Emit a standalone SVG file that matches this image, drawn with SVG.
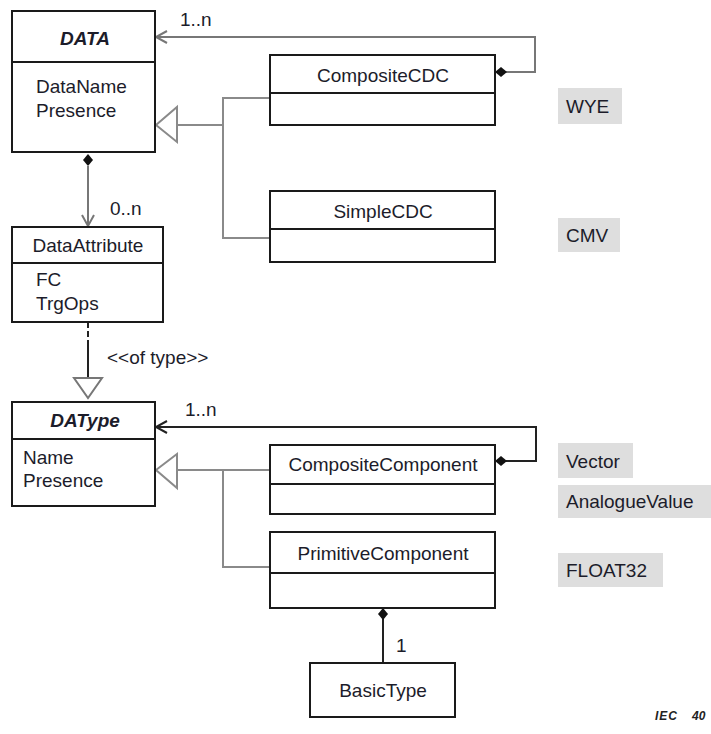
<svg xmlns="http://www.w3.org/2000/svg" width="711" height="734" viewBox="0 0 711 734">
<style>
  .box{fill:#fff;stroke:#1a1a1a;stroke-width:2}
  .div{stroke:#1a1a1a;stroke-width:2}
  .t{font-family:"Liberation Sans",Arial,sans-serif;font-size:19px;fill:#1c1c2a}
  .c{text-anchor:middle}
  .bi{font-weight:bold;font-style:italic}
  .gen{fill:none;stroke:#8a8a8a;stroke-width:2}
  .asc{fill:none;stroke:#777;stroke-width:2}
  .ascd{fill:none;stroke:#222;stroke-width:2}
  .lbl{fill:#dedede}
</style>
<rect width="711" height="734" fill="#fff"/>
<g id="connectors">
  <!-- DATA 1..n association from CompositeCDC -->
  <polyline class="asc" points="506,72 535,72 535,37 156,37"/>
  <polyline class="asc" points="167,31 156,37 167,43"/>
  <polygon points="495,72 501,67 507,72 501,77" fill="#111"/>
  <text class="t" x="180" y="26">1..n</text>
  <!-- generalization to DATA -->
  <polyline class="gen" points="270,98 223,98 223,238 270,238"/>
  <line class="gen" x1="177" y1="125" x2="223" y2="125"/>
  <polygon class="gen" points="156,125 177,107 177,142"/>
  <!-- DATA to DataAttribute composition -->
  <line class="asc" x1="88" y1="166" x2="88" y2="226"/>
  <polygon points="88,154 93,160 88,166 83,160" fill="#111"/>
  <polyline class="asc" points="82,215 88,226 94,215"/>
  <text class="t" x="110" y="215">0..n</text>
  <!-- of type dependency -->
  <line x1="88" y1="322" x2="88" y2="345" stroke="#222" stroke-width="2" stroke-dasharray="6 3"/>
  <line x1="88" y1="345" x2="88" y2="378" stroke="#222" stroke-width="2"/>
  <polygon points="74,378 102,378 88,398" fill="#fff" stroke="#777" stroke-width="2"/>
  <text class="t" x="107" y="364">&lt;&lt;of type&gt;&gt;</text>
  <!-- DAType 1..n association from CompositeComponent -->
  <polyline class="ascd" points="506,461 536,461 536,427 156,427"/>
  <polyline class="ascd" points="167,421 156,427 167,433"/>
  <polygon points="495,461 501,456 507,461 501,466" fill="#111"/>
  <text class="t" x="185" y="416">1..n</text>
  <!-- generalization to DAType -->
  <line class="gen" x1="177" y1="470" x2="270" y2="470"/>
  <polyline class="gen" points="223,470 223,567 270,567"/>
  <polygon class="gen" points="156,470 177,454 177,488"/>
  <!-- PrimitiveComponent to BasicType -->
  <line stroke="#222" stroke-width="2" x1="383" y1="619" x2="383" y2="663"/>
  <polygon points="383,608 388,614 383,620 378,614" fill="#111"/>
  <text class="t" x="396" y="652">1</text>
</g>
<g id="DATA">
  <rect class="box" x="12" y="11" width="143" height="141"/>
  <line class="div" x1="12" y1="62" x2="155" y2="62"/>
  <text class="t c bi" x="85" y="45">DATA</text>
  <text class="t" x="36" y="93">DataName</text>
  <text class="t" x="36" y="117">Presence</text>
</g>
<g id="CompositeCDC">
  <rect class="box" x="270" y="55" width="225" height="70"/>
  <line class="div" x1="270" y1="93" x2="495" y2="93"/>
  <text class="t c" x="383" y="82">CompositeCDC</text>
</g>
<g id="SimpleCDC">
  <rect class="box" x="270" y="191" width="225" height="71"/>
  <line class="div" x1="270" y1="229" x2="495" y2="229"/>
  <text class="t c" x="383" y="218">SimpleCDC</text>
</g>
<g id="WYE">
  <rect class="lbl" x="558" y="88" width="64" height="36"/>
  <text class="t" x="566" y="113">WYE</text>
</g>
<g id="CMV">
  <rect class="lbl" x="558" y="218" width="62" height="34"/>
  <text class="t" x="566" y="242">CMV</text>
</g>
<g id="DataAttribute">
  <rect class="box" x="12" y="227" width="151" height="95"/>
  <line class="div" x1="12" y1="263" x2="163" y2="263"/>
  <text class="t c" x="88" y="252">DataAttribute</text>
  <text class="t" x="36" y="286">FC</text>
  <text class="t" x="36" y="310">TrgOps</text>
</g>
<g id="DAType">
  <rect class="box" x="12" y="402" width="143" height="104"/>
  <line class="div" x1="12" y1="439" x2="155" y2="439"/>
  <text class="t c bi" x="85" y="427">DAType</text>
  <text class="t" x="23" y="464">Name</text>
  <text class="t" x="23" y="487">Presence</text>
</g>
<g id="CompositeComponent">
  <rect class="box" x="270" y="445" width="225" height="69"/>
  <line class="div" x1="270" y1="484" x2="495" y2="484"/>
  <text class="t c" x="383" y="471">CompositeComponent</text>
</g>
<g id="PrimitiveComponent">
  <rect class="box" x="270" y="532" width="225" height="76"/>
  <line class="div" x1="270" y1="573" x2="495" y2="573"/>
  <text class="t c" x="383" y="560">PrimitiveComponent</text>
</g>
<g id="Vector">
  <rect class="lbl" x="558" y="443" width="75" height="35"/>
  <text class="t" x="566" y="468">Vector</text>
</g>
<g id="AnalogueValue">
  <rect class="lbl" x="558" y="485" width="153" height="33"/>
  <text class="t" x="566" y="508">AnalogueValue</text>
</g>
<g id="FLOAT32">
  <rect class="lbl" x="558" y="553" width="105" height="34"/>
  <text class="t" x="566" y="577">FLOAT32</text>
</g>
<g id="BasicType">
  <rect class="box" x="310" y="663" width="145" height="54"/>
  <text class="t c" x="383" y="697">BasicType</text>
</g>
<text x="655" y="720" font-family="'Liberation Sans',Arial,sans-serif" font-size="12" font-weight="bold" font-style="italic" fill="#222" letter-spacing="1">IEC</text>
<text x="692" y="720" font-family="'Liberation Sans',Arial,sans-serif" font-size="12" font-weight="bold" font-style="italic" fill="#222">40</text>
</svg>
